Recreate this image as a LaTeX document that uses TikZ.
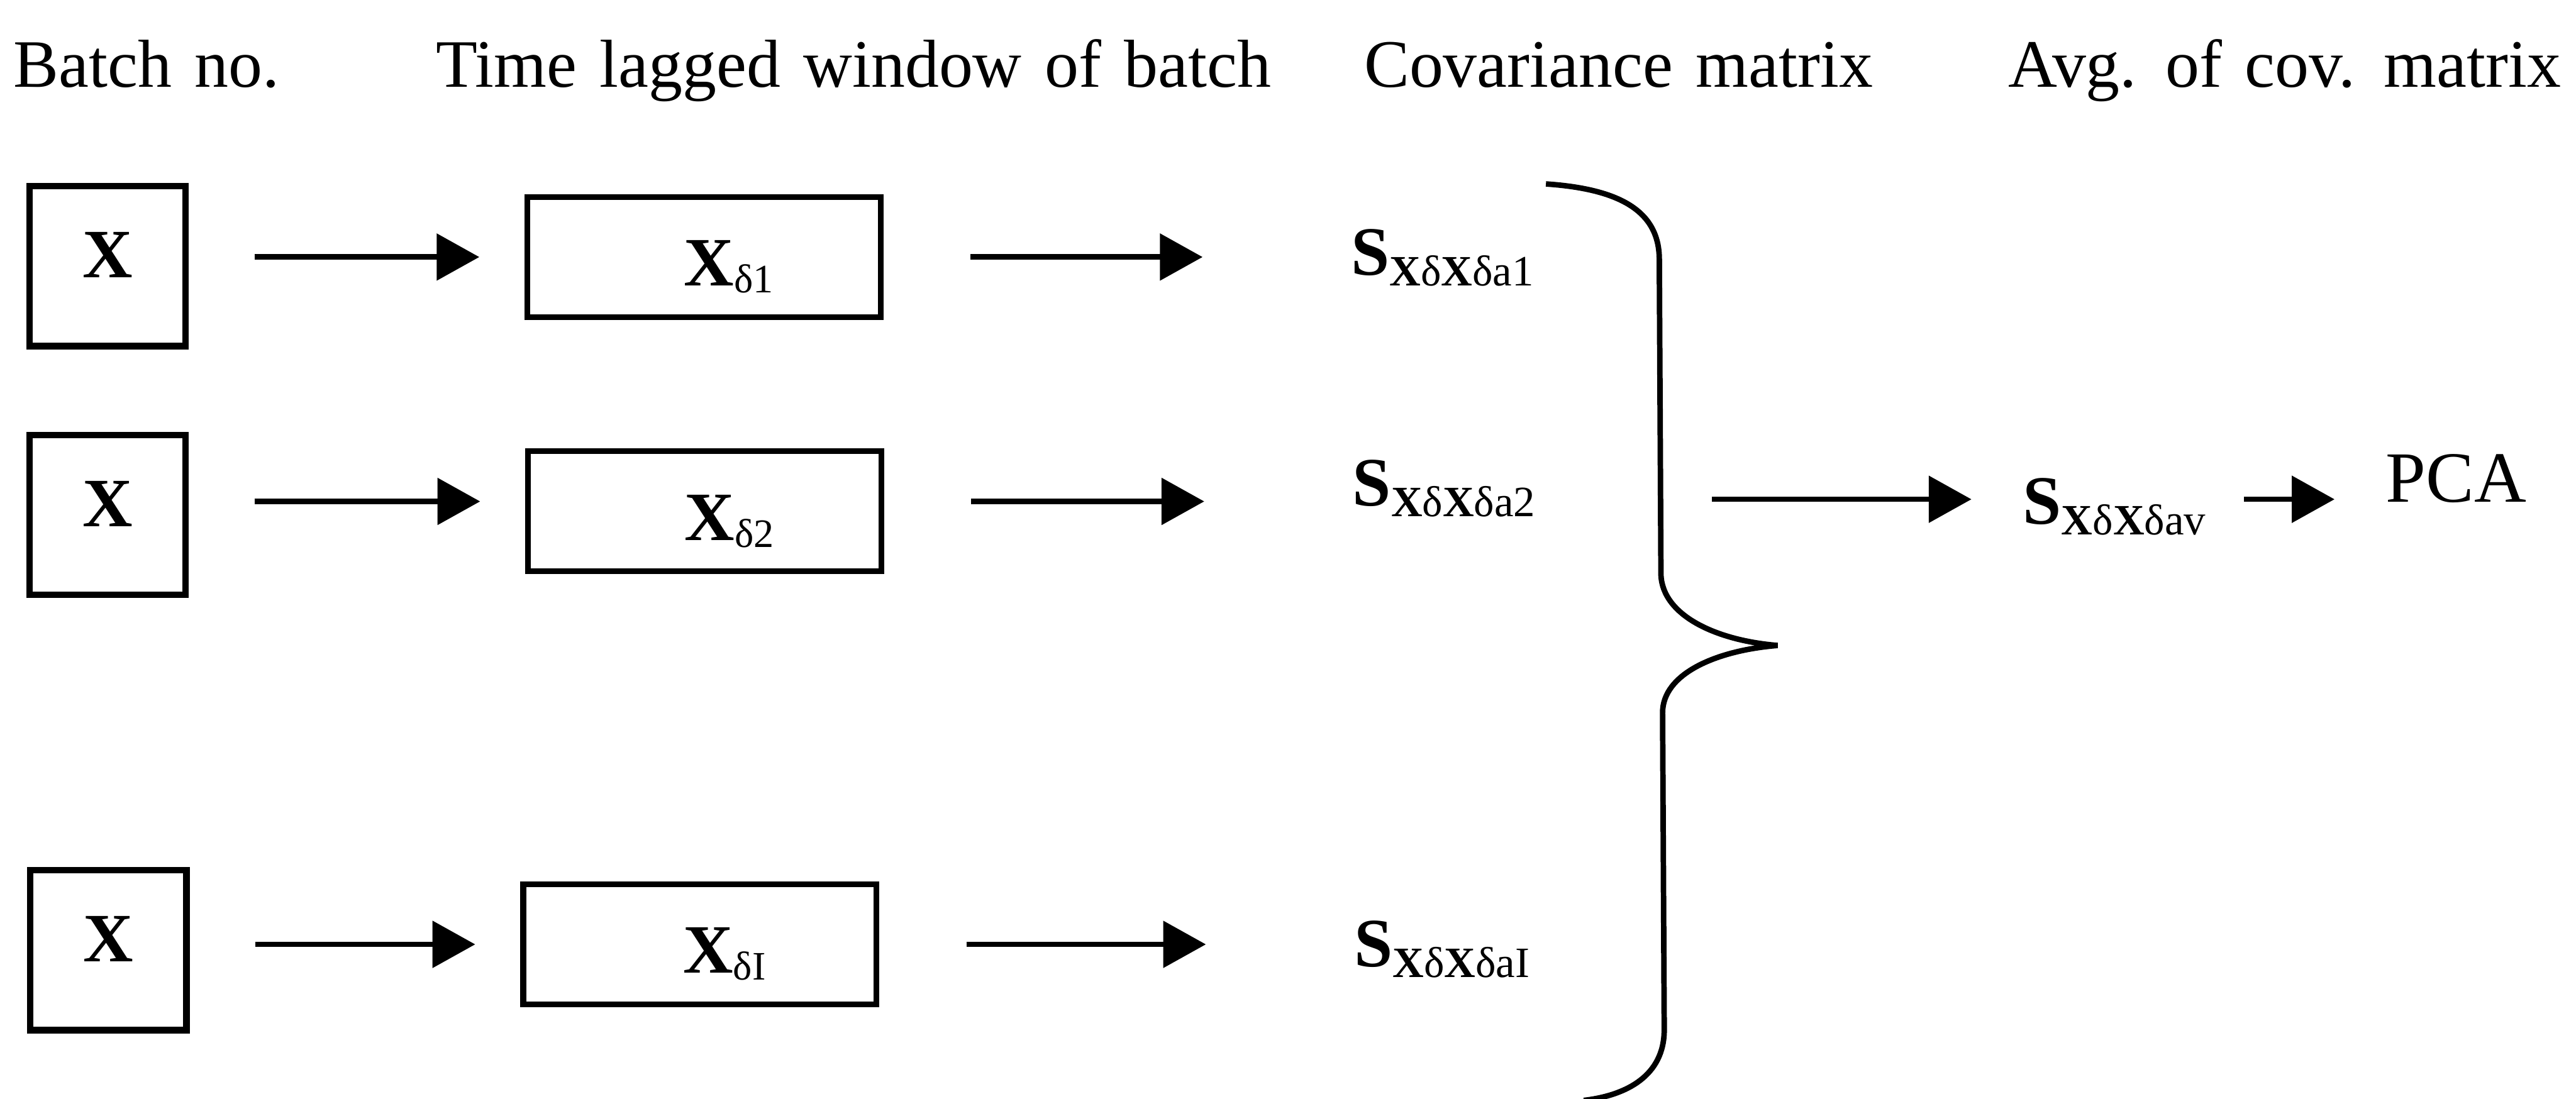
\documentclass[tikz,border=0pt]{standalone}
\usepackage{fontspec}
\setmainfont{Liberation Serif}[WordSpace=1.35]
\usetikzlibrary{arrows.meta}

\newcommand\fsz[1]{\fontsize{#1}{#1}\selectfont}
% S with its two-part subscript
\newcommand\covlabel[1]{\textbf{S}\raisebox{-3.7pt}{\fsz{15}\textbf{X}δ\textbf{X}δ#1}}
\newcommand\lagged[1]{\hspace*{0.6cm}\textbf{X}\raisebox{-2.4pt}{\fsz{14}δ#1}}

\tikzset{
  lbl/.style={inner sep=0pt, anchor=base west},
  head/.style={lbl, font=\fsz{23.5}},
  cov/.style={lbl, font=\fsz{24}},
  batchbox/.style={draw, line width=2.2pt, inner sep=0pt, minimum width=1.9cm,
    minimum height=1.95cm, font=\fsz{24}\bfseries, text height=16pt, text depth=8.1pt},
  winbox/.style={draw, line width=2pt, inner sep=0pt, minimum width=4.3cm,
    minimum height=1.46cm, font=\fsz{24}, text height=22pt, text depth=2pt},
  flow/.style={line width=1.9pt, -{Triangle[length=0.52cm,width=0.56cm]}},
  brace/.style={line width=1.9pt},
}

\begin{document}
\begin{tikzpicture}[x=0.02cm,y=-0.02cm]
\useasboundingbox (0,0) rectangle (1568,669);

% column titles
\node[head] (hbatch) at (8,53) {Batch no.};
\node[head] (hwin) at (265,53) {Time lagged window of batch};
\node[head] (hcov) at (830,53) {Covariance matrix};
\node[head] (havg) at (1222,53) {Avg. of cov. matrix};

% batches and their lagged windows
\node[batchbox] (x1) at (65.5,162) {X};
\node[batchbox] (x2) at (65.5,313.5) {X};
\node[batchbox] (x3) at (66,578.5) {X};
\node[winbox] (w1) at (428.5,156.5) {\lagged{1}};
\node[winbox] (w2) at (429,311.3) {\lagged{2}};
\node[winbox] (w3) at (426,575) {\lagged{I}};

% covariance matrices
\node[cov] (s1) at (822,167.5) {\covlabel{a1}};
\node[cov] (s2) at (823,308) {\covlabel{a2}};
\node[cov] (s3) at (824,588.5) {\covlabel{aI}};
\node[cov] (sav) at (1231,319) {\covlabel{av}};
\node[cov, font=\fsz{25}] (pca) at (1452,305.5) {PCA};

\foreach \i/\dy in {1/0,2/0.12,3/0} {
  \draw[flow] ([xshift=0.8cm,yshift=\dy cm]x\i.east |- w\i.west)
    -- ([xshift=-0.55cm,yshift=\dy cm]w\i.west);
  \draw[flow] ([xshift=1.06cm,yshift=\dy cm]w\i.east)
    -- ([xshift=-1.8cm,yshift=\dy cm]s\i.west |- w\i.east);
}

% brace collecting the three matrices
\draw[brace] (941,112) .. controls (985,115) and (1010,128) .. (1010,158)
  -- (1011,350) .. controls (1012,375) and (1045,390) .. (1082,393)
  .. controls (1045,396) and (1012,410) .. (1012,434)
  -- (1013,627) .. controls (1013,655) and (990,667) .. (964,670);

\coordinate (tip) at (1042,304);
\draw[flow] (tip) -- ([xshift=-0.62cm]tip -| sav.west);
\draw[flow] ([xshift=0.46cm]sav.east |- tip) -- ([xshift=-0.62cm]pca.west |- tip);
\end{tikzpicture}
\end{document}
